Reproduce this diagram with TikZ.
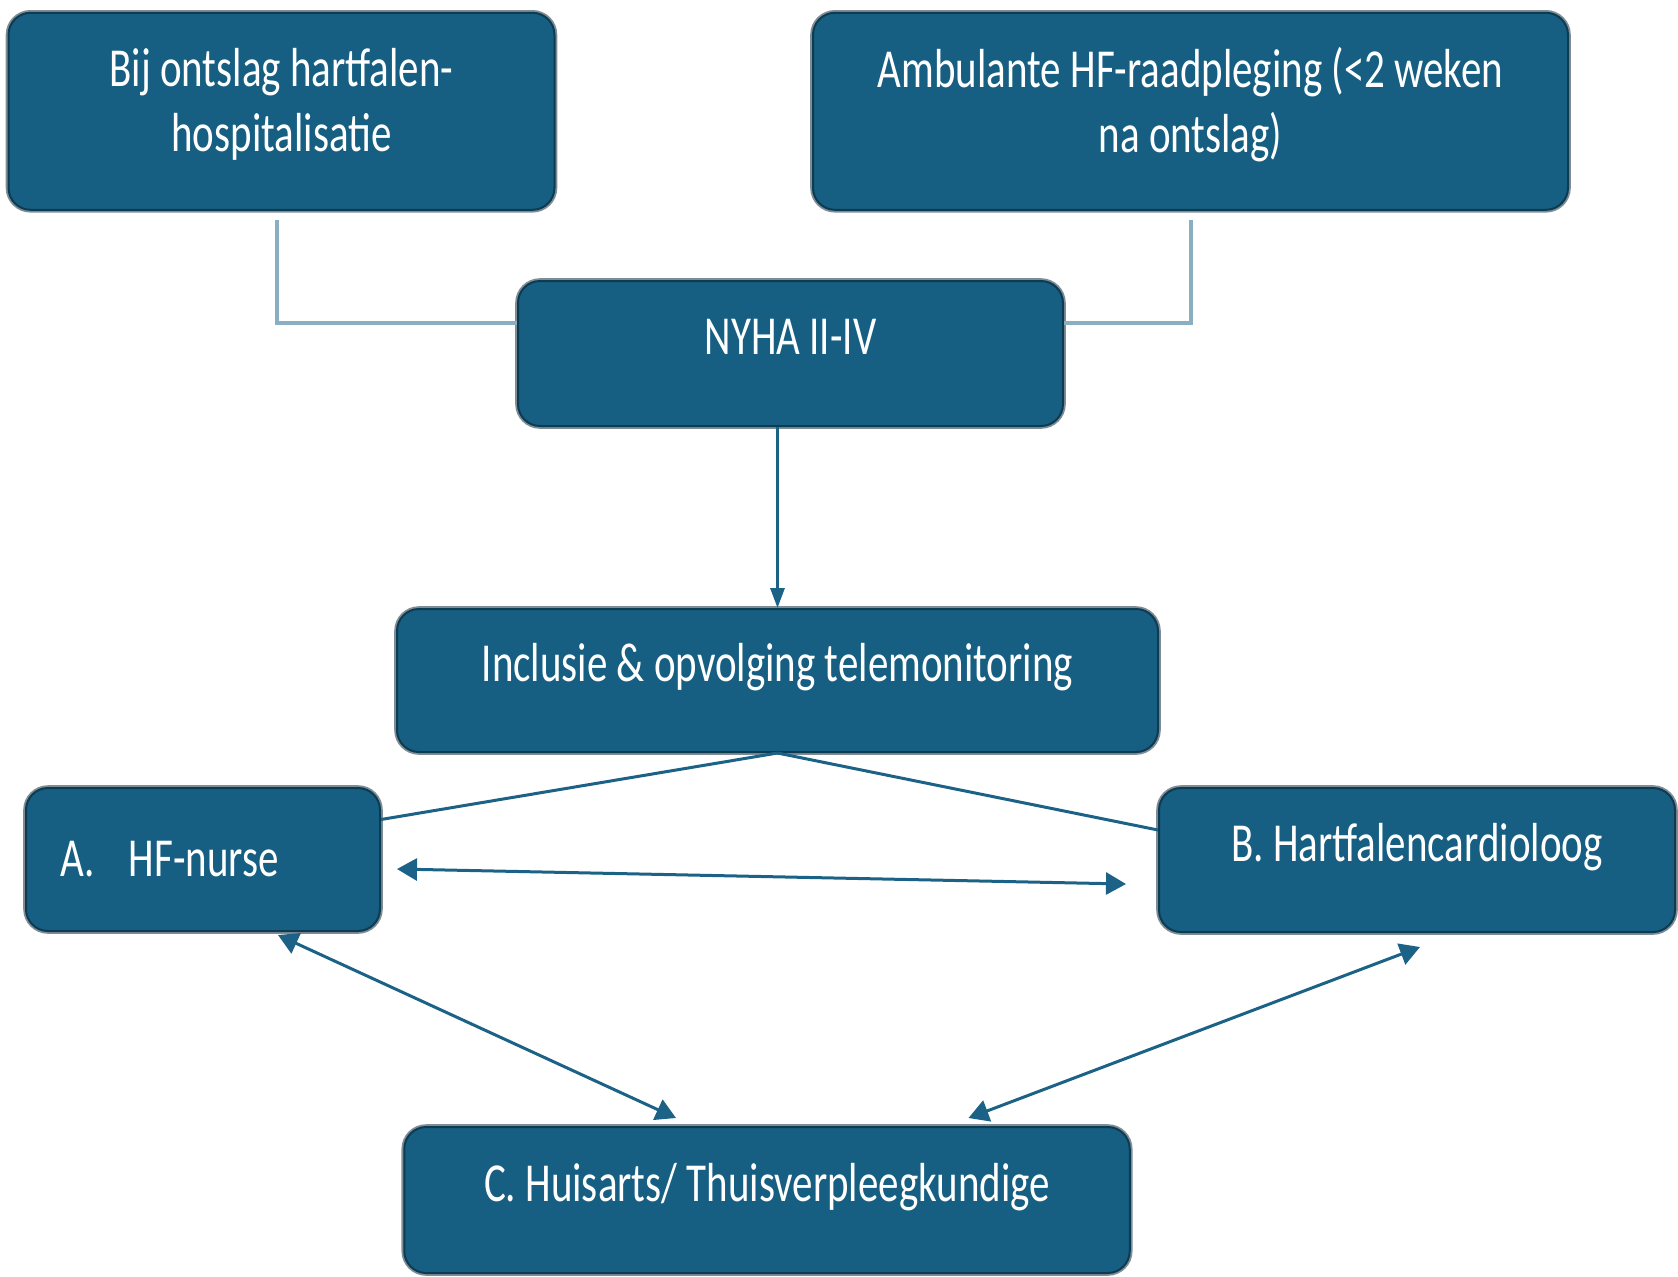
\documentclass[tikz,border=0pt]{standalone}
\usepackage{fontspec}
\setmainfont[FakeStretch=0.745]{Carlito}
\usetikzlibrary{arrows.meta}

\definecolor{boxfill}{HTML}{165F82}
\definecolor{boxborder}{HTML}{0C3B52}
\definecolor{boxshadow}{HTML}{7F8D96}
\definecolor{linklight}{HTML}{8AAFC2}
\definecolor{linkdark}{HTML}{1B6286}

\tikzset{
  flowbox/.style={draw=boxborder, line width=1pt, fill=boxfill, rounded corners=11pt,
    text=white, align=center, inner sep=0pt,
    preaction={draw=boxshadow, line width=2.8pt}},
  oneline/.style={text height=17.9pt, text depth=16.5pt},
  twolines/.style={text depth=11.5pt},
  elbow/.style={draw=linklight, line width=2pt},
  link/.style={draw=linkdark, line width=1.5pt},
  twoway/.style={link, {Triangle[length=10pt,width=11pt]}-{Triangle[length=10pt,width=11pt]}},
}

\begin{document}
\begin{tikzpicture}[x=0.5pt, y=-0.5pt, font=\fontsize{27.5}{32.5}\selectfont]
  \useasboundingbox (0,0) rectangle (1678,1276);

  % boxes
  \node[flowbox, twolines, minimum width=273pt, minimum height=98.5pt] (hosp) at (281.5,111.3) {Bij ontslag hartfalen-\\hospitalisatie};
  \node[flowbox, twolines, minimum width=377.5pt, minimum height=98.5pt] (amb) at (1190.5,111.3) {Ambulante HF-raadpleging (<2 weken\\na ontslag)};
  \node[flowbox, oneline, minimum width=272.5pt, minimum height=72.5pt] (nyha) at (790.5,353.5) {NYHA II-IV};
  \node[flowbox, oneline, minimum width=380.5pt, minimum height=71.5pt] (incl) at (777.5,680.5) {Inclusie \& opvolging telemonitoring};
  \node[flowbox, align=left, text width=142pt, inner xsep=17.5pt, minimum height=71.5pt] (nurse) at (203,859.5) {\makebox[34pt][l]{A.}HF-nurse};
  \node[flowbox, oneline, minimum width=258pt, minimum height=72pt] (card) at (1417,860) {B. Hartfalencardioloog};
  \node[flowbox, oneline, minimum width=362.75pt, minimum height=73pt] (huis) at (767,1200) {C. Huisarts/ Thuisverpleegkundige};

  % connectors
  \draw[elbow] ([xshift=-2.25pt,yshift=-4.5pt]hosp.south) |- ([yshift=15.25pt]nyha.west);
  \draw[elbow] ([yshift=-4.5pt]amb.south) |- ([yshift=15.25pt]nyha.east);
  \draw[link, -{Triangle[length=10pt,width=7pt]}] (incl.north |- nyha.south) -- (incl.north);
  \draw[link] (incl.south) -- ([yshift=20pt]nurse.east);
  \draw[link] (incl.south) -- ([yshift=15pt]card.west);
  \draw[twoway] ([xshift=8pt,yshift=-4.75pt]nurse.east) -- ([xshift=-16pt,yshift=-12pt]card.west);
  \draw[twoway] ([xshift=37.5pt,yshift=-1.5pt]nurse.south) -- ([xshift=-45.5pt,yshift=4pt]huis.north);
  \draw[twoway] ([xshift=1.5pt,yshift=-7pt]card.south) -- ([xshift=100.75pt,yshift=4pt]huis.north);
\end{tikzpicture}
\end{document}
